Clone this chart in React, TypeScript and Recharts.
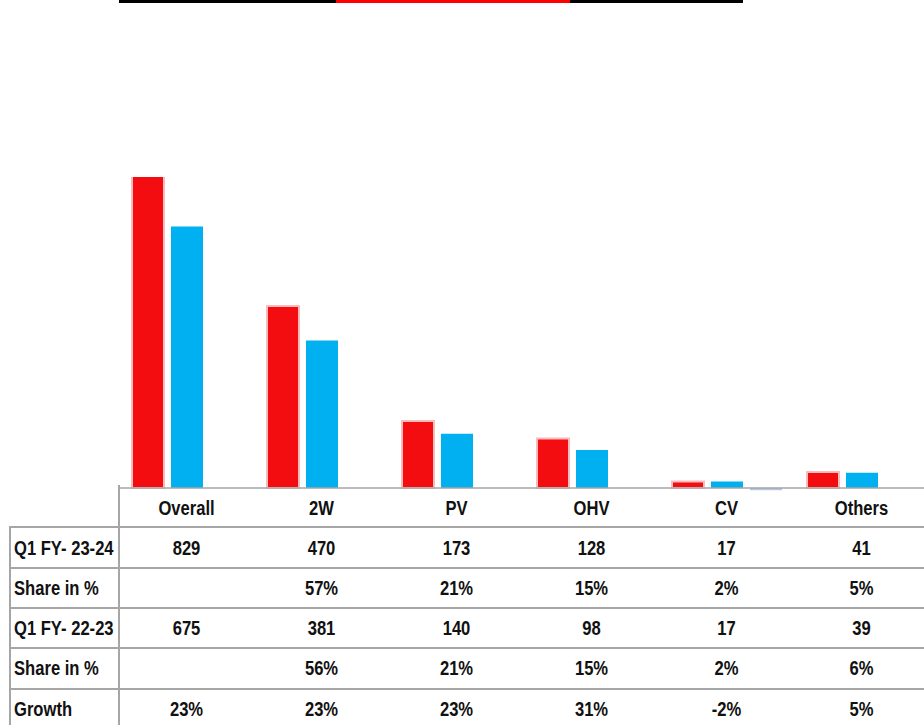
import React from 'react';
import { BarChart, Bar, XAxis, YAxis, ReferenceLine } from 'recharts';

const categories = ['Overall', '2W', 'PV', 'OHV', 'CV', 'Others'];
const q1Fy2324 = [829, 470, 173, 128, 17, 41];
const q1Fy2223 = [675, 381, 140, 98, 17, 39];
const share2324 = ['', '57%', '21%', '15%', '2%', '5%'];
const share2223 = ['', '56%', '21%', '15%', '2%', '6%'];
const growthPct = [23, 23, 23, 31, -2, 5];
const rowLabels = ['Q1 FY- 23-24', 'Share in %', 'Q1 FY- 22-23', 'Share in %', 'Growth'];

const chartData = categories.map((name, i) => ({
  name,
  cur: q1Fy2324[i],
  prev: q1Fy2223[i],
  growth: growthPct[i] / 100,
}));

// no narrow font installed, so squeeze Liberation Sans bold horizontally
const FONT = '"Liberation Sans", Arial, sans-serif';
const FONT_SIZE = 21;
const SQUEEZE = 0.79;
const GRID = '#A6A6A6';
// centres of header row and the five table rows (page px)
const rowCentres = [508, 548, 588, 628, 668, 709];
const rowLines = [527, 568, 608, 648, 689];

const TableTick = (props: any) => {
  const { x, payload, index } = props;
  const i = index ?? categories.indexOf(payload.value);
  const cells = [
    payload.value,
    String(q1Fy2324[i]),
    share2324[i],
    String(q1Fy2223[i]),
    share2223[i],
    `${growthPct[i]}%`,
  ];
  return (
    <g>
      {cells.map((c, r) => (
        <g key={r} transform={`translate(${x},${rowCentres[r]}) scale(${SQUEEZE},1)`}>
          <text
            x={0}
            y={0}
            textAnchor="middle"
            dominantBaseline="central"
            fontFamily={FONT}
            fontWeight="bold"
            fontSize={FONT_SIZE}
            fill="#111"
          >
            {c}
          </text>
        </g>
      ))}
    </g>
  );
};

const line = (style: React.CSSProperties): React.CSSProperties => ({
  position: 'absolute',
  background: GRID,
  ...style,
});

export default function App() {
  return (
    <div style={{ position: 'absolute', left: 0, top: 0, width: 924, height: 725, overflow: 'hidden', background: '#fff' }}>
      {/* header stripe */}
      <div style={{ position: 'absolute', left: 119, top: 0, width: 624, height: 3, background: '#000' }} />
      <div style={{ position: 'absolute', left: 336, top: 0, width: 234, height: 3, background: '#FF0000' }} />

      <BarChart
        width={929}
        height={725}
        data={chartData}
        margin={{ top: 177, right: 0, left: 119, bottom: 0 }}
        barCategoryGap={13}
        barGap={7}
      >
        <XAxis
          dataKey="name"
          height={234.7}
          axisLine={false}
          tickLine={false}
          tickSize={0}
          tickMargin={0}
          interval={0}
          tick={<TableTick />}
        />
        <YAxis hide domain={[-6, 803]} allowDataOverflow />
        <Bar dataKey="cur" fill="#F30D10" stroke="#F9BCBC" strokeWidth={2} isAnimationActive={false} />
        <Bar dataKey="prev" fill="#00B0F0" isAnimationActive={false} />
        <Bar
          dataKey="growth"
          fill="#B4C7E7"
          minPointSize={(v: number) => (v < 0 ? 3 : 0)}
          isAnimationActive={false}
        />
        <ReferenceLine y={0} stroke={GRID} strokeWidth={1.6} />
      </BarChart>

      {/* table grid */}
      <div style={line({ left: 118, top: 485, width: 2, height: 240 })} />
      <div style={line({ left: 9, top: 526, width: 2, height: 199 })} />
      {rowLines.map((y) => (
        <div key={y} style={line({ left: 9, top: y - 1, width: 915, height: 2 })} />
      ))}
      {rowLabels.map((t, r) => (
        <div
          key={r}
          style={{
            position: 'absolute',
            left: 14,
            top: rowCentres[r + 1] - 12,
            height: 24,
            lineHeight: '24px',
            fontFamily: FONT,
            fontWeight: 'bold',
            fontSize: FONT_SIZE,
            color: '#111',
            whiteSpace: 'nowrap',
            transform: `scaleX(${SQUEEZE})`,
            transformOrigin: 'left center',
          }}
        >
          {t}
        </div>
      ))}
    </div>
  );
}
